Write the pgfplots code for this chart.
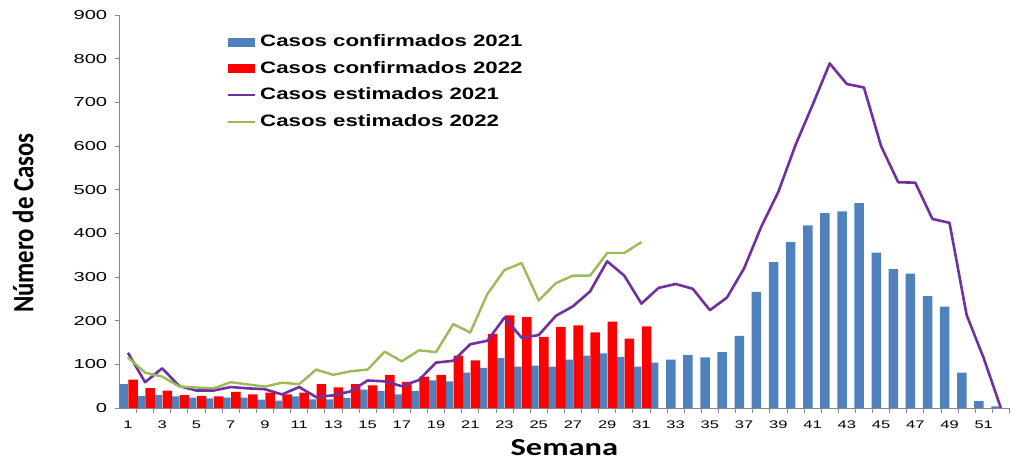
\documentclass[border=0pt]{standalone}
\usepackage{pgfplots}
\pgfplotsset{compat=1.18}
\usepackage{graphicx}
\usepackage{fontspec}
\setmainfont{Liberation Sans}
\newfontfamily\carlito{Carlito}
\definecolor{cblue}{HTML}{4F81BD}
\definecolor{cred}{HTML}{FF0000}
\definecolor{cpurple}{HTML}{7030A0}
\definecolor{cgreen}{HTML}{9BBB59}
\definecolor{caxis}{HTML}{888888}
\begin{document}
\begin{tikzpicture}
\useasboundingbox (0,0) rectangle (1016pt,462pt);
\begin{axis}[
  at={(119.4pt,54pt)}, anchor=south west,
  width=890pt, height=393pt, scale only axis,
  xmin=0.5, xmax=52.5, ymin=0, ymax=900,
  axis lines*=left,
  axis line style={draw=caxis, line width=0.8pt},
  xtick={1,3,...,51},
  minor xtick={1.5,2.5,...,52.5},
  ytick={0,100,...,900},
  tick align=outside,
  major tick length=4pt, minor tick length=5pt,
  major x tick style={draw=none},
  minor x tick style={draw=caxis, line width=0.8pt},
  ytick style={draw=caxis, line width=0.8pt},
  /pgf/number format/assume math mode=true,
  xticklabel={\scalebox{1.5}[1]{\pgfmathprintnumber{\tick}}},
  yticklabel={\scalebox{1.55}[1]{\pgfmathprintnumber{\tick}}},
  xticklabel style={font=\fontsize{11}{11}\selectfont, inner sep=0pt, anchor=north, yshift=-9pt},
  yticklabel style={font=\fontsize{13}{13}\selectfont, inner sep=0pt, anchor=east, xshift=-8pt},
  xlabel={\scalebox{1.33}[1]{\carlito\bfseries Semana}},
  xlabel style={font=\fontsize{24.4}{24.4}\selectfont, at={(axis description cs:0.5,-0.1196)}, anchor=base, inner sep=0pt},
  ylabel={\scalebox{1}[1.19]{\carlito\bfseries Número de Casos}},
  ylabel style={font=\fontsize{24.8}{24.8}\selectfont, at={(axis description cs:-0.1083,0.4707)}, anchor=center, rotate=0, inner sep=0pt},
  legend style={at={(axis description cs:0.1209,0.952)}, anchor=north west, draw=none, fill=none,
    font=\bfseries\fontsize{16.5}{16.5}\selectfont, row sep=10pt, column sep=3pt, inner sep=0pt,
    nodes={inner sep=1pt, text height=11.5pt, text depth=3pt}},
  legend cell align=left,
]
\addplot[ybar, bar width=0.555, bar shift=-0.28, fill=cblue, draw=none,
  legend image code/.code={\fill[cblue] (0pt,-4.5pt) rectangle (27pt,4.5pt);}] coordinates {
(1,54.5) (2,28) (3,29.5) (4,26.5) (5,24) (6,22) (7,24) (8,24) (9,19) (10,17)
(11,26.5) (12,20) (13,20) (14,23) (15,42) (16,39) (17,31) (18,39) (19,63) (20,61)
(21,81) (22,92) (23,114) (24,95) (25,97) (26,95) (27,111) (28,120) (29,125) (30,117)
(31,95) (32,104) (33,111) (34,121) (35,116) (36,128) (37,165) (38,266) (39,334) (40,380)
(41,418) (42,446) (43,450) (44,469) (45,356) (46,318) (47,308) (48,256) (49,232) (50,81)
(51,16) (52,4)};
\addlegendentry{\scalebox{1.35}[1]{Casos confirmados 2021}}
\addplot[ybar, bar width=0.555, bar shift=0.30, fill=cred, draw=none,
  legend image code/.code={\fill[cred] (0pt,-4.5pt) rectangle (27pt,4.5pt);}] coordinates {
(1,65) (2,45.5) (3,40) (4,29.5) (5,28) (6,26.5) (7,37) (8,31) (9,35) (10,31)
(11,35) (12,54.5) (13,47) (14,54.5) (15,52) (16,76) (17,60) (18,72) (19,76) (20,120)
(21,109) (22,170) (23,212) (24,208) (25,163) (26,186) (27,189) (28,173) (29,198) (30,159)
(31,187)};
\addlegendentry{\scalebox{1.35}[1]{Casos confirmados 2022}}
\addplot[cpurple, line width=2.6pt, mark=none, line join=round,
  legend image code/.code={\draw[cpurple, line width=2pt] (0pt,0pt) -- (27pt,0pt);}] coordinates {
(1,126.5) (2,59) (3,91) (4,50) (5,40) (6,40) (7,48) (8,45) (9,43) (10,31)
(11,48) (12,25) (13,29) (14,38) (15,63) (16,61) (17,50) (18,64) (19,104) (20,108)
(21,146) (22,154) (23,207) (24,161) (25,167) (26,211) (27,233) (28,267) (29,336) (30,303)
(31,239) (32,275) (33,284) (34,273) (35,224) (36,253) (37,320) (38,415) (39,495) (40,602)
(41,694) (42,789) (43,742) (44,734) (45,600) (46,517) (47,516) (48,433) (49,424) (50,213)
(51,114) (52,0)};
\addlegendentry{\scalebox{1.35}[1]{Casos estimados 2021}}
\addplot[cgreen, line width=2.4pt, mark=none, line join=round,
  legend image code/.code={\draw[cgreen, line width=2pt] (0pt,0pt) -- (27pt,0pt);}] coordinates {
(1,116) (2,81) (3,72) (4,49) (5,47) (6,45) (7,59) (8,54) (9,49) (10,58)
(11,54.5) (12,88) (13,76) (14,84) (15,88) (16,129) (17,107) (18,132) (19,128) (20,192)
(21,173) (22,261) (23,316) (24,332) (25,246) (26,286) (27,303) (28,303) (29,355) (30,355)
(31,380)};
\addlegendentry{\scalebox{1.35}[1]{Casos estimados 2022}}
\end{axis}
\end{tikzpicture}
\end{document}
